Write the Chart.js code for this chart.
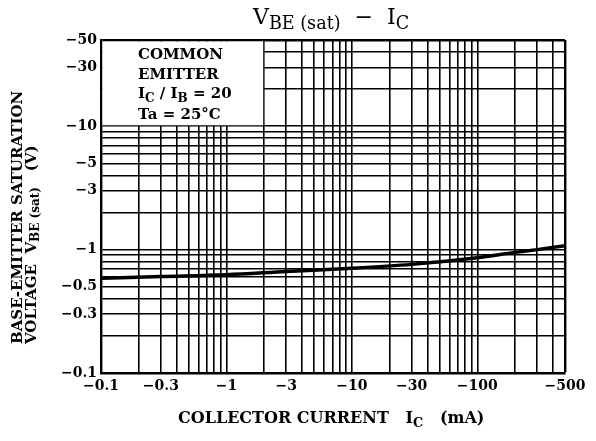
<!DOCTYPE html>
<html>
<head>
<meta charset="utf-8">
<script src="https://cdn.jsdelivr.net/npm/chart.js@4/dist/chart.umd.min.js"></script>
<style>
  html, body { margin: 0; padding: 0; background: #fff; }
  #wrap { position: relative; width: 596px; height: 441px; font-family: "DejaVu Serif", serif; color: #000; }
  #c { position: absolute; left: 0; top: 0; }
  .txt { position: absolute; white-space: pre; line-height: 1; }
  .sub { font-size: 0.8em; position: relative; top: 0.3em; }
  #title { left: 253px; top: 6px; font-size: 22px; }
  #legend { left: 138px; top: 45px; font-size: 15px; font-weight: bold; line-height: 19.5px; }
  #xtitle { left: 178px; top: 410px; font-size: 16px; font-weight: bold; }
  #ytitle { left: 11px; top: 344px; font-size: 15px; font-weight: bold; line-height: 13.5px;
            transform-origin: left top; transform: rotate(-90deg); }
</style>
</head>
<body>
<div id="wrap">
  <canvas id="c" width="596" height="441"></canvas>
  <div class="txt" id="title">V<span class="sub">BE (sat)</span>  −  I<span class="sub">C</span></div>
  <div class="txt" id="legend">COMMON
EMITTER
I<span class="sub">C</span> / I<span class="sub">B</span> = 20
Ta = 25°C</div>
  <div class="txt" id="xtitle">COLLECTOR CURRENT   I<span class="sub">C</span>   (mA)</div>
  <div class="txt" id="ytitle">BASE-EMITTER SATURATION
VOLTAGE  V<span class="sub">BE (sat)</span>   (V)</div>
</div>
<script>
// curve (magnitudes, plotted on log-log axes)
const currentMA = [0.1, 0.3, 1, 3, 10, 30, 100, 200, 300, 500];
const vbeSat = [0.585, 0.605, 0.626, 0.665, 0.706, 0.76, 0.86, 0.95, 1.0, 1.075];

// grid lines
const xGrid = [0.1, 0.2, 0.3, 0.4, 0.5, 0.6, 0.7, 0.8, 0.9,
               1, 2, 3, 4, 5, 6, 7, 8, 9,
               10, 20, 30, 40, 50, 60, 70, 80, 90,
               100, 200, 300, 400, 500];
const yGrid = [0.1, 0.2, 0.3, 0.4, 0.5, 0.6, 0.7, 0.8, 0.9,
               1, 2, 3, 4, 5, 6, 7, 8, 9,
               10, 20, 30, 40, 50];

// labelled ticks
const xLabels = [0.1, 0.3, 1, 3, 10, 30, 100, 500];
const yLabels = [0.1, 0.3, 0.5, 1, 3, 5, 10, 30, 50];

const tickFont = { family: 'DejaVu Serif', size: 14, weight: 'bold' };

function neg(v) { return '\u2212' + v; }

// blank corner where the condition text sits (I < 2 mA, V > 10 V)
const blankBox = {
    id: 'blankBox',
    beforeDatasetsDraw(chart) {
        const { ctx, chartArea, scales } = chart;
        const x1 = scales.x.getPixelForValue(2) - 1;
        const y1 = scales.y.getPixelForValue(10) - 1;
        ctx.save();
        ctx.fillStyle = '#fff';
        ctx.fillRect(chartArea.left + 1.5, chartArea.top + 1.5, x1 - chartArea.left - 1.5, y1 - chartArea.top - 1.5);
        ctx.restore();
    }
};

new Chart(document.getElementById('c').getContext('2d'), {
    type: 'line',
    data: {
        datasets: [{
            data: currentMA.map((x, i) => ({ x: x, y: vbeSat[i] })),
            borderColor: '#000',
            borderWidth: 3.4,
            pointRadius: 0,
            cubicInterpolationMode: 'monotone',
            fill: false
        }]
    },
    options: {
        responsive: false,
        animation: false,
        devicePixelRatio: 1,
        layout: { padding: { left: 0, top: 40, right: 31, bottom: 0 } },
        plugins: { legend: { display: false }, title: { display: false }, tooltip: { enabled: false } },
        scales: {
            x: {
                type: 'logarithmic',
                min: 0.1, max: 500,
                afterBuildTicks: s => { s.ticks = xGrid.map(v => ({ value: v })); },
                afterFit: s => { s.height = 68; },
                ticks: {
                    autoSkip: false, maxRotation: 0, padding: 5, color: '#000', font: tickFont,
                    callback: v => xLabels.includes(v) ? neg(v) : ''
                },
                grid: {
                    drawTicks: false, color: '#000',
                    lineWidth: c => (c.tick && c.tick.value === 500) ? 2.4 : 1.6
                },
                border: { display: true, color: '#000', width: 2.4 }
            },
            y: {
                type: 'logarithmic',
                min: 0.1, max: 50,
                afterBuildTicks: s => { s.ticks = yGrid.map(v => ({ value: v })); },
                afterFit: s => { s.width = 101; },
                ticks: {
                    autoSkip: false, padding: 4, color: '#000', font: tickFont,
                    callback: v => yLabels.includes(v) ? neg(v) : ''
                },
                grid: {
                    drawTicks: false, color: '#000',
                    lineWidth: c => (c.tick && c.tick.value === 50) ? 2.4 : 1.6
                },
                border: { display: true, color: '#000', width: 2.4 }
            }
        }
    },
    plugins: [blankBox]
});
</script>
</body>
</html>
